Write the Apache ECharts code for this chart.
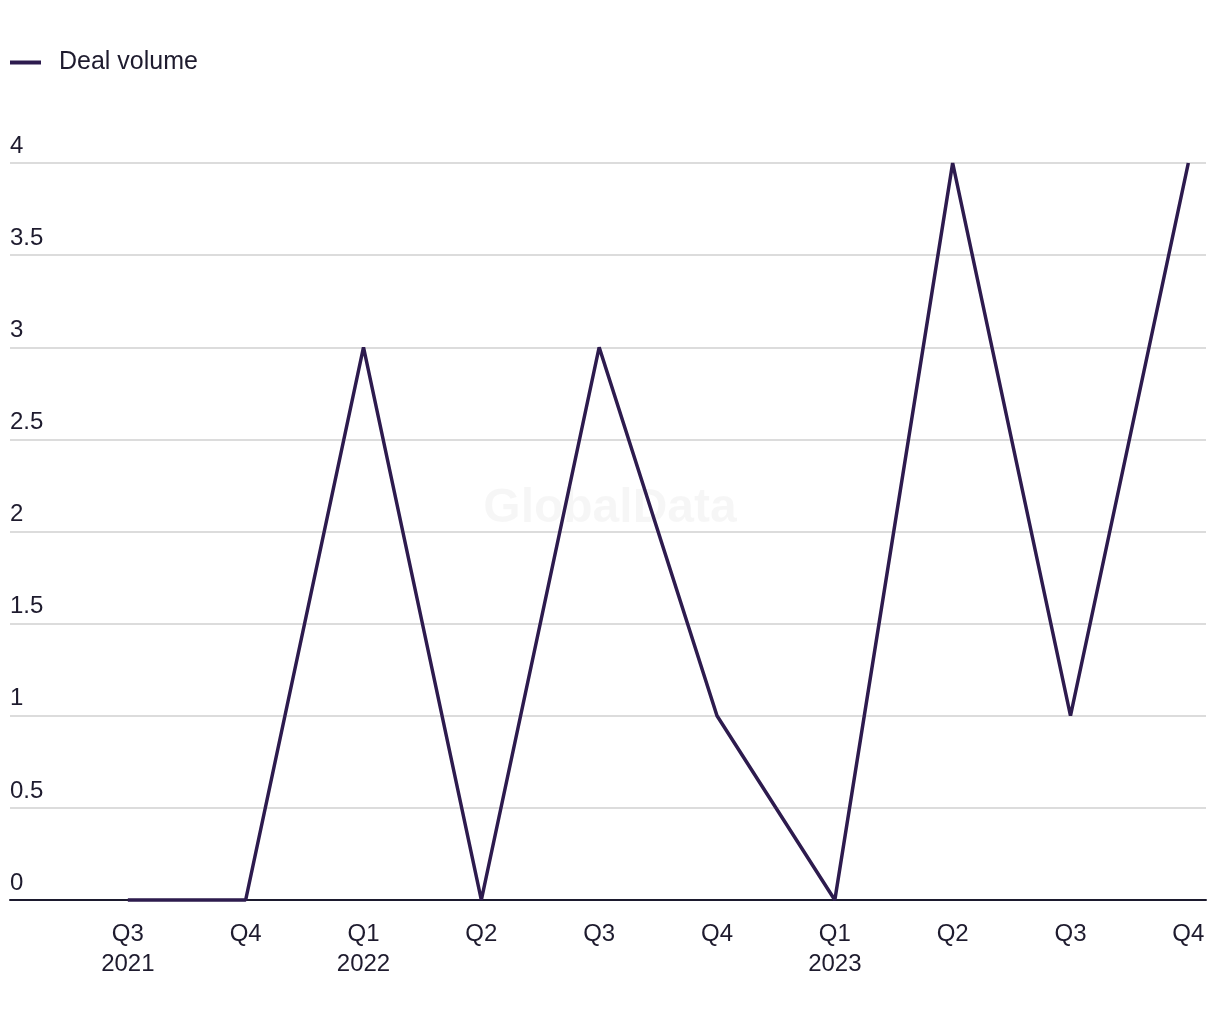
<!DOCTYPE html>
<html>
<head>
<meta charset="utf-8">
<script src="https://cdn.jsdelivr.net/npm/echarts@6/dist/echarts.min.js"></script>
<style>html,body{margin:0;padding:0;background:#fff;}#chart{width:1220px;height:1020px;}</style>
</head>
<body>
<div id="chart"></div>
<script>
const categories = ['Q3\n2021','Q4','Q1\n2022','Q2','Q3','Q4','Q1\n2023','Q2','Q3','Q4'];
const dealVolume = [0,0,3,0,3,1,0,4,1,4];
const yTicks = {min:0, max:4, interval:0.5};

const FONT = '"Liberation Sans", Arial, sans-serif';
const TEXT = '#1e1b2e';
const chart = echarts.init(document.getElementById('chart'));
chart.setOption({
  animation:false,
  graphic:[{type:'text', left:'center', top:485, z:0, silent:true,
    style:{text:'GlobalData', font:'bold 48px '+FONT, fill:'rgba(0,0,0,0.035)'}}],
  legend:{left:10, top:50, padding:0, icon:'rect', itemWidth:31, itemHeight:4,
    textStyle:{fontFamily:FONT, fontSize:25, color:TEXT, padding:[0,0,0,13]},
    data:['Deal volume']},
  grid:{left:10, right:14, top:163, bottom:120, containLabel:false},
  xAxis:{type:'value', min:-1, max:9.15, interval:1,
    axisLine:{show:true, lineStyle:{color:'#1c1a2e', width:2}},
    axisTick:{show:false}, splitLine:{show:false},
    axisLabel:{fontFamily:FONT, fontSize:24, color:TEXT, lineHeight:30, margin:19,
      showMinLabel:false, showMaxLabel:false,
      formatter:v=> (Number.isInteger(v) && categories[v]!==undefined) ? categories[v] : ''}},
  yAxis:{type:'value', min:yTicks.min, max:yTicks.max, interval:yTicks.interval,
    axisLine:{show:false}, axisTick:{show:false},
    splitLine:{lineStyle:{color:'#dcdcdc', width:2}},
    axisLabel:{inside:true, margin:0, verticalAlign:'bottom', fontFamily:FONT, fontSize:24,
      color:TEXT, lineHeight:24, padding:[0,0,5,0]}},
  series:[{name:'Deal volume', type:'line', showSymbol:false, symbol:'none',
    data: dealVolume.map((v,i)=>[i,v]),
    lineStyle:{color:'#2d1b4e', width:3.5}, itemStyle:{color:'#2d1b4e'}, clip:false, z:5}]
});
</script>
</body>
</html>
